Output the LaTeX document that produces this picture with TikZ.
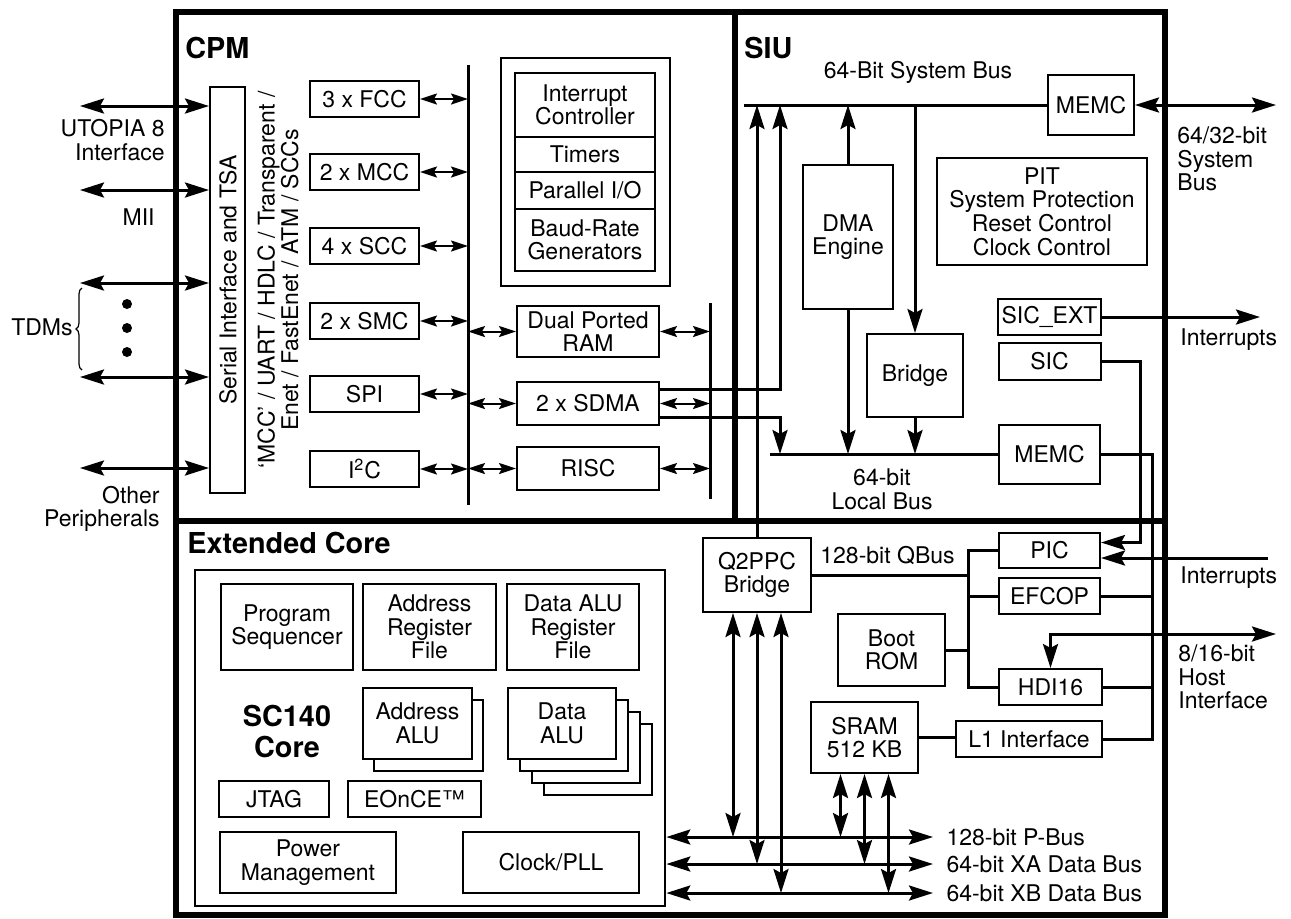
\documentclass[tikz,border=0pt]{standalone}
\usepackage{fontspec}
\setmainfont{TeX Gyre Heros}
\usetikzlibrary{arrows.meta,decorations.pathreplacing}
\newcommand\bxfont{\fontsize{11.5}{11.8}\selectfont}
\newcommand\hdfont{\fontsize{14.4}{15.5}\selectfont\bfseries}
\tikzset{
	blk/.style={draw, line width=1pt, align=center, inner sep=1pt, font=\bxfont},
	sz/.style 2 args={minimum width=#1*0.5pt, minimum height=#2*0.5pt},
	lbl/.style={font=\bxfont, inner sep=0pt},
	hd/.style={font=\hdfont, inner sep=0pt, anchor=base west},
	frm/.style={line width=3pt},
	bus/.style={line width=1.5pt},
	big/.style={bus, >={Stealth[length=12pt,width=7.5pt,inset=2pt]}},
	sm/.style={line width=1pt, >={Stealth[length=8.5pt,width=5.5pt,inset=1.5pt]}, <->},
}
\begin{document}
\begin{tikzpicture}[x=0.5pt, y=-0.5pt]
		\useasboundingbox (0,0) rectangle (1291,918);

		\draw [frm] (176,11.5) rectangle (1164.5,915);
		\draw [frm] (735,11.5) -- (735,521);
		\draw [frm] (176,521) -- (1164.5,521);
		\node [hd] (cpm) at (185,58) {CPM};
		\node [hd] (siu) at (744,58) {SIU};
		\node [hd] (ext) at (187,553) {Extended Core};

		\node [blk, sz={35}{406}] (sia) at (227.5,290) {};
		\node [lbl, rotate=90] (siat) at (228,280) {Serial Interface and TSA};
		\node [lbl, rotate=90, align=center] (proto) at (278,280) {‘MCC’ / UART / HDLC / Transparent /\\Enet / FastEnet / ATM / SCCs};
		\foreach \n/\y/\t in {fcc/99/3 x FCC, mcc/172/2 x MCC, scc/246/4 x SCC, smc/321/2 x SMC, spi/394/SPI, iic/469/I\textsuperscript{2}C}
			\node [blk, sz={109}{36}] (\n) at (364.5,\y) {\t};
		\coordinate (cbus) at (468,65);
		\coordinate (rbus) at (710,303);
		\draw [bus] (cbus) -- (468,505);
		\draw [bus] (rbus) -- (710,499);
		\foreach \n in {fcc,mcc,scc,smc,spi,iic}
			\draw [sm] (\n.east) -- (\n.east -| cbus);
		\foreach \n/\y/\h/\t in {dpr/331.5/51/Dual Ported\\RAM, sdma/403.5/43/2 x SDMA, risc/468.5/43/RISC} {
			\node [blk, sz={142}{\h}] (\n) at (588,\y) {\t};
			\draw [sm] (\n.west -| cbus) -- (\n.west);
			\draw [sm] (\n.east) -- (\n.east -| rbus);
		}
		\node [blk, sz={169}{228}] (intc) at (585.5,172) {};
		\node [blk, sz={140}{64}] (ictl) at (585,105) {Interrupt\\Controller};
		\node [blk, sz={140}{35}] (tmr) at (585,154.5) {Timers};
		\node [blk, sz={140}{37}] (pio) at (585,190.5) {Parallel I/O};
		\node [blk, sz={140}{62}] (brg) at (585,240) {Baud-Rate\\Generators};

		\foreach \n/\y in {utp/106, mii/190, tda/283, tdb/377, oth/468} {
			\coordinate (\n) at (80,\y);
			\draw [big,<->] (\n) -- (\n -| sia.west);
		}
		\node [lbl, align=right, anchor=east] (utpl) at (165,140) {UTOPIA 8\\Interface};
		\node [lbl, anchor=east] (miil) at (155,217) {MII};
		\node [lbl, anchor=east] (tdml) at (73,327) {TDMs};
		\draw [line width=0.6pt, decorate, decoration={brace, amplitude=3pt}] (82,370) -- (82,288);
		\foreach \y in {304,328,352}
			\fill (127,\y) circle (2.5pt);
		\node [lbl, align=right, anchor=east] (othl) at (160,509) {Other\\Peripherals};

		\coordinate (sbus) at (744,105);
		\coordinate (lbus) at (770,454);
		\node [blk, sz={86}{60}] (memc) at (1091,105) {MEMC};
		\draw [bus] (sbus) -- (memc.west);
		\node [lbl] (sbusl) at (918,72) {64-Bit System Bus};
		\node [blk, sz={210}{107}] (pit) at (1042,211.5) {PIT\\System Protection\\Reset Control\\Clock Control};
		\node [blk, sz={90}{144}] (dma) at (848,237) {DMA\\Engine};
		\node [blk, sz={96}{83}] (brdg) at (915,375.5) {Bridge};
		\node [blk, sz={103}{36}] (sicext) at (1049.5,317) {SIC\_EXT};
		\node [blk, sz={102}{37}] (sic) at (1049.5,361.5) {SIC};
		\node [blk, sz={101}{59}] (lmemc) at (1049.5,454) {MEMC};
		\draw [bus] (lbus) -- (lmemc.west);
		\node [lbl, align=center] (lbusl) at (882,489) {64-bit\\Local Bus};
		\draw [big,->] (dma.north) -- (dma.north |- sbus);
		\draw [big,->] (dma.south) -- (dma.south |- lbus);
		\draw [big,->] (brdg.north |- sbus) -- (brdg.north);
		\draw [big,->] (brdg.south) -- (brdg.south |- lbus);
		\coordinate (sdx) at (780,105);
		\draw [big,->] ([yshift=7pt]sdma.east) -| (sdx);
		\draw [big,->] ([yshift=-7pt]sdma.east) -| (sdx |- lbus);
		\coordinate (sysb) at (1276,105);
		\draw [big,<->] (memc.east) -- (memc.east -| sysb);
		\node [lbl, align=left, anchor=west] (sysbl) at (1177,159) {64/32-bit\\System\\Bus};
		\coordinate (irqa) at (1260,317);
		\draw [big,->] (sicext.east) -- (sicext.east -| irqa);
		\node [lbl, anchor=west] (irqal) at (1180,340) {Interrupts};

		\node [blk, sz={108}{74}] (q2ppc) at (757,575) {Q2PPC\\Bridge};
		\draw [big,->] (q2ppc.north) -- (q2ppc.north |- sbus);
		\node [blk, sz={101}{35}] (pic) at (1049.5,550.5) {PIC};
		\node [blk, sz={101}{36}] (efcop) at (1049.5,596) {EFCOP};
		\node [blk, sz={107}{72}] (boot) at (891.5,650) {Boot\\ROM};
		\node [blk, sz={103}{36}] (hdi) at (1050.5,687) {HDI16};
		\node [blk, sz={107}{71}] (sram) at (864.5,737.5) {SRAM\\512 KB};
		\node [blk, sz={146}{36}] (l1) at (1029,739) {L1 Interface};
		\node [lbl, anchor=west] (qbusl) at (820,556) {128-bit QBus};
		\coordinate (qb) at (968,549);
		\draw [bus] (pic.west) -- (pic.west -| qb) |- (hdi.west);
		\draw [bus] (q2ppc.east) -- (q2ppc.east -| qb);
		\draw [bus] (efcop.west) -- (efcop.west -| qb);
		\draw [bus] (boot.east) -- (boot.east -| qb);
		\coordinate (mx) at (1152,454);
		\draw [bus] (lmemc.east) -- (mx) |- (l1.east);
		\draw [bus] (efcop.east) -- (efcop.east -| mx);
		\draw [bus] (hdi.east) -- (hdi.east -| mx);
		\draw [bus] (sram.east) -- (sram.east -| l1.west);
		\draw [big,->] (sic.east) -- ++(39,0) |- ([yshift=4pt]pic.east);
		\coordinate (irqb) at (1268,558);
		\draw [big,->] (irqb) -- (irqb -| pic.east);
		\node [lbl, anchor=west] (irqbl) at (1180,578) {Interrupts};
		\coordinate (hif) at (1276,634);
		\draw [big,<->] (hdi.north) |- (hif);
		\node [lbl, align=left, anchor=west] (hifl) at (1178,677) {8/16-bit\\Host\\Interface};

		\node [draw, line width=1.3pt, sz={470}{336}] (core) at (430,738) {};
		\node [blk, sz={132}{86}] (pseq) at (287,627) {Program\\Sequencer};
		\node [blk, sz={133}{86}] (arf) at (429.5,627) {Address\\Register\\File};
		\node [blk, sz={132}{86}] (darf) at (573,627) {Data ALU\\Register\\File};
		\node [blk, sz={109}{71}, fill=white] (aalub) at (428.5,735.5) {};
		\node [blk, sz={109}{71}, fill=white] (aalu) at (417.5,723.5) {Address\\ALU};
		\foreach \k in {3,2,1}
			\node [blk, sz={108}{71}, fill=white] (dalu\k) at (562+12*\k,723.5+12*\k) {};
		\node [blk, sz={108}{71}, fill=white] (dalu) at (562,723.5) {Data\\ALU};
		\node [font=\hdfont, align=center, inner sep=0pt] (sc) at (287,731) {SC140\\Core};
		\node [blk, sz={110}{36}] (jtag) at (274,799) {JTAG};
		\node [blk, sz={133}{36}] (eonce) at (414.5,799) {EOnCE™};
		\node [blk, sz={176}{61}] (pwr) at (308,862.5) {Power\\Management};
		\node [blk, sz={176}{61}] (clk) at (551,862.5) {Clock/PLL};

		\foreach \n/\y/\t in {pb/837/128-bit P-Bus, xa/864/64-bit XA Data Bus, xb/893/64-bit XB Data Bus} {
			\coordinate (\n) at (933,\y);
			\draw [big,<->] (\n -| core.east) -- (\n) node [lbl, anchor=west, xshift=6pt] (\n l) {\t};
		}
		\foreach \dx/\n in {-24/pb, 0/xa, 24/xb} {
			\coordinate (qv\n) at ([xshift=\dx*0.5pt]q2ppc.south);
			\coordinate (sv\n) at ([xshift=\dx*0.5pt]sram.south);
			\draw [big,<->] (qv\n) -- (qv\n |- \n);
			\draw [big,<->] (sv\n) -- (sv\n |- \n);
		}
	\end{tikzpicture}
\end{document}
